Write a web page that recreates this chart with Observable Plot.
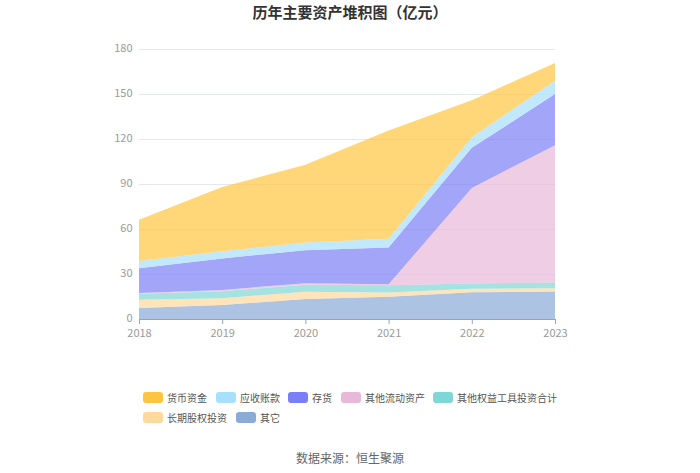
<!DOCTYPE html>
<html>
<head>
<meta charset="utf-8">
<script src="https://cdn.jsdelivr.net/npm/d3@7"></script>
<script src="https://cdn.jsdelivr.net/npm/@observablehq/plot@0.6"></script>
<style>
  body { margin: 0; width: 700px; height: 473px; background: #fff; font-family: "Noto Sans CJK SC", "Noto Sans", sans-serif; position: relative; overflow: hidden; }
  #title { position: absolute; top: 0; left: 0; width: 700px; text-align: center; font-size: 15px; font-weight: bold; color: #333; line-height: 24px; }
  #chart { position: absolute; top: 30px; left: 0; }
  #legend { position: absolute; top: 391px; left: 143px; width: 440px; font-size: 10px; color: #555; }
  .item { position: absolute; display: flex; align-items: center; white-space: nowrap; height: 12px; }
  .sw { width: 20px; height: 11px; border-radius: 3px; margin-right: 4px; }
  #caption { position: absolute; top: 449px; left: 0; width: 700px; text-align: center; font-size: 12px; color: #666; }
</style>
</head>
<body>
<div id="title">历年主要资产堆积图（亿元）</div>
<div id="chart"></div>
<div id="legend"></div>
<div id="caption">数据来源：恒生聚源</div>
<script>
const years = [2018, 2019, 2020, 2021, 2022, 2023];
const seriesNames = ["货币资金", "应收账款", "存货", "其他流动资产", "其他权益工具投资合计", "长期股权投资", "其它"];
const colors = ["#FFC43F", "#A8DFFA", "#7B7FF5", "#E8B8D8", "#7FD6D6", "#FFD99B", "#8AAAD8"];
const cash        = [27.5, 42.9, 51.8, 72.2, 24.7, 11.8];
const receivable  = [4.9, 4.7, 5.1, 5.8, 7.1, 8.9];
const inventory   = [16.4, 21.0, 22.0, 24.6, 26.7, 34.2];
const otherCurrent= [0.6, 0.9, 1.0, 0.6, 63.7, 91.5];
const otherEquity = [3.9, 4.6, 4.8, 4.9, 3.6, 3.8];
const longEquity  = [5.6, 4.6, 4.7, 2.8, 2.3, 2.1];
const others      = [7.3, 9.3, 13.4, 14.8, 17.8, 18.4];
const yTicks = [0, 30, 60, 90, 120, 150, 180];

const valuesBySeries = [cash, receivable, inventory, otherCurrent, otherEquity, longEquity, others];
const stackOrder = seriesNames.slice().reverse(); // bottom first
const data = [];
stackOrder.forEach(name => {
  const vals = valuesBySeries[seriesNames.indexOf(name)];
  years.forEach((y, i) => data.push({year: y, series: name, value: vals[i]}));
});

const chart = Plot.plot({
  width: 700,
  height: 340,
  marginTop: 19,
  marginBottom: 51,
  marginLeft: 139,
  marginRight: 145,
  style: { fontFamily: "'Noto Sans CJK SC', sans-serif", fontSize: "11px", color: "#9a9a9a" },
  x: { domain: [2018, 2023], label: null },
  y: { domain: [0, 180], label: null },
  color: { domain: seriesNames, range: colors },
  marks: [
    Plot.gridY(yTicks, { stroke: "#E6E8F0", strokeOpacity: 1 }),
    Plot.areaY(data, { x: "year", y: "value", fill: "series", fillOpacity: 0.7, order: stackOrder }),
    Plot.axisX({ ticks: years, tickFormat: d => String(d), stroke: "#9aa3b5", label: null, tickSize: 5, tickPadding: 5 }),
    Plot.axisY({ ticks: yTicks, label: null, tickSize: 0, tickPadding: 7, dy: -1 }),
    Plot.ruleY([0], { stroke: "#9aa3b5" })
  ]
});
document.getElementById("chart").appendChild(chart);

const legendPos = [[0, 0], [73, 0], [145, 0], [198, 0], [290, 0], [0, 20], [93, 20]];
const legend = document.getElementById("legend");
seriesNames.forEach((name, i) => {
  const item = document.createElement("div");
  item.className = "item";
  item.style.left = legendPos[i][0] + "px";
  item.style.top = legendPos[i][1] + "px";
  item.innerHTML = `<div class="sw" style="background:${colors[i]}"></div><span>${name}</span>`;
  legend.appendChild(item);
});
</script>
</body>
</html>
